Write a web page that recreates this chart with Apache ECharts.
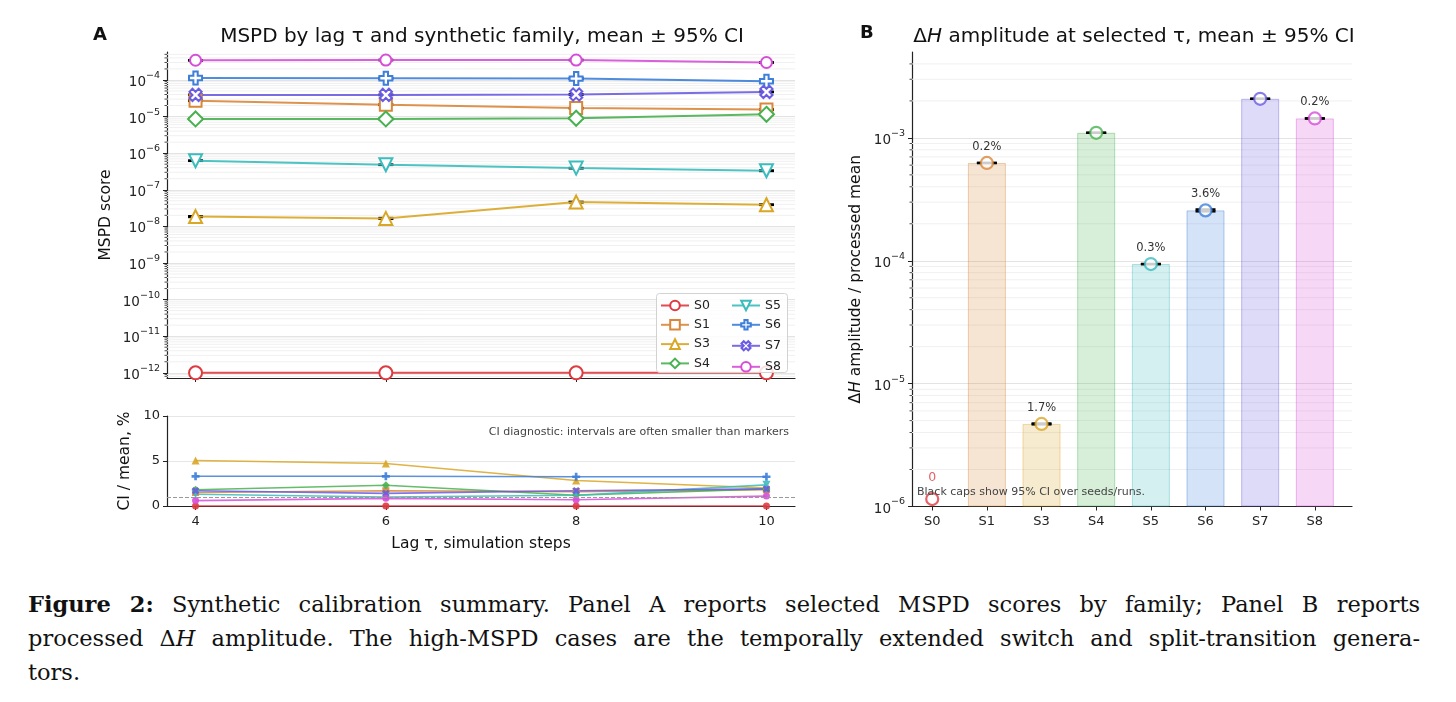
<!DOCTYPE html>
<html>
<head>
<meta charset="utf-8">
<script src="https://cdn.jsdelivr.net/npm/echarts@6/dist/echarts.min.js"></script>
<style>
  html, body { margin: 0; padding: 0; background: #fff; }
  #chart { position: absolute; left: 0; top: 0; width: 1456px; height: 580px; }
  #caption { position: absolute; left: 28px; top: 587px; width: 1392px; font-family: 'DejaVu Serif', serif; font-size: 22.5px; line-height: 34px; color: #111; }
  #caption div { white-space: nowrap; }
  #caption .j { text-align: justify; text-align-last: justify; }
</style>
</head>
<body>
<div id="chart"></div>
<div id="caption">
  <div class="j"><b>Figure 2:</b> Synthetic calibration summary. Panel A reports selected MSPD scores by family; Panel B reports</div>
  <div class="j">processed &Delta;<i>H</i> amplitude. The high-MSPD cases are the temporally extended switch and split-transition genera-</div>
  <div>tors.</div>
</div>
<script>
// ---- data ----
const lagSteps = [4, 6, 8, 10];
const families = ['S0', 'S1', 'S3', 'S4', 'S5', 'S6', 'S7', 'S8'];

// MSPD mean by lag (panel A, top)
const mspdS0 = [1e-12, 1e-12, 1e-12, 1e-12];
const mspdS1 = [2.7e-5, 2.1e-5, 1.7e-5, 1.55e-5];
const mspdS3 = [1.85e-8, 1.65e-8, 4.6e-8, 3.9e-8];
const mspdS4 = [8.6e-6, 8.6e-6, 9.0e-6, 1.15e-5];
const mspdS5 = [6.2e-7, 4.8e-7, 3.9e-7, 3.3e-7];
const mspdS6 = [1.13e-4, 1.11e-4, 1.09e-4, 9.2e-5];
const mspdS7 = [3.9e-5, 3.9e-5, 4.0e-5, 4.7e-5];
const mspdS8 = [3.45e-4, 3.5e-4, 3.5e-4, 3.0e-4];

// CI / mean, % (panel A, bottom)
const ciS0 = [0, 0, 0, 0];
const ciS1 = [1.5, 1.7, 1.6, 1.8];
const ciS3 = [5.05, 4.72, 2.83, 2.0];
const ciS4 = [1.8, 2.3, 1.2, 1.9];
const ciS5 = [1.3, 1.0, 1.2, 2.35];
const ciS6 = [3.3, 3.3, 3.25, 3.25];
const ciS7 = [1.7, 1.4, 1.7, 1.9];
const ciS8 = [0.6, 0.85, 0.7, 1.1];
const ciRefLine = 1;

// panel B: dH amplitude at selected tau
const ampMean = [0, 6.25e-4, 4.7e-6, 1.1e-3, 9.4e-5, 2.57e-4, 2.08e-3, 1.44e-3];
const ampCiPct = [0, 0.2, 1.7, 0.1, 0.3, 3.6, 0.1, 0.2];
const ampCiLabel = ['', '0.2%', '1.7%', '', '0.3%', '3.6%', '', '0.2%'];
const ampZeroFloor = 1.15e-6;

// tick labels
const mspdTicks = [1e-12, 1e-11, 1e-10, 1e-9, 1e-8, 1e-7, 1e-6, 1e-5, 1e-4];
const ampTicks = [1e-6, 1e-5, 1e-4, 1e-3];
const ciTicks = [0, 5, 10];

const mspdByFamily = [mspdS0, mspdS1, mspdS3, mspdS4, mspdS5, mspdS6, mspdS7, mspdS8];
const ciByFamily = [ciS0, ciS1, ciS3, ciS4, ciS5, ciS6, ciS7, ciS8];

// ---- styles ----
const colors = ['#de3a3f', '#d9873a', '#d9a625', '#48b150', '#3bbcbd', '#3d7fda', '#6a5ce2', '#d64ed8'];
const plusPath = 'path://M-1,-3L1,-3L1,-1L3,-1L3,1L1,1L1,3L-1,3L-1,1L-3,1L-3,-1L-1,-1Z';
const symbols = ['circle', 'rect', 'triangle', 'diamond', 'triangle', plusPath, plusPath, 'circle'];
const rotations = [0, 0, 0, 0, 180, 0, 45, 0];
const topSizes = [13, 12, 13, 15, 13, 13, 13, 11];
const botSizes = [7, 7, 8, 8, 8, 8, 8, 7];

const FONT = 'DejaVu Sans';
const AX = '#222';

function rgba(hex, a) {
  const n = parseInt(hex.slice(1), 16);
  return 'rgba(' + (n >> 16 & 255) + ',' + (n >> 8 & 255) + ',' + (n & 255) + ',' + a + ')';
}

const logLabel = v => '{b|10}{s|\u2212' + Math.round(-Math.log10(v)) + '}';
const logRich = {
  b: { fontSize: 13.5, color: AX, fontFamily: FONT, lineHeight: 19, verticalAlign: 'bottom' },
  s: { fontSize: 9.5, color: AX, fontFamily: FONT, lineHeight: 11, verticalAlign: 'top' }
};

function minorValues(lo, hi) {
  const out = [];
  for (let e = Math.floor(Math.log10(lo)); e <= Math.ceil(Math.log10(hi)); e++) {
    for (let m = 2; m <= 9; m++) {
      const v = m * Math.pow(10, e);
      if (v > lo && v < hi) out.push(v);
    }
  }
  return out;
}

// light minor grid lines + minor ticks for a log axis
function minorGrid(xi, yi, xRef, lo, hi) {
  return {
    type: 'custom', xAxisIndex: xi, yAxisIndex: yi, silent: true, z: 1, clip: false,
    data: minorValues(lo, hi).map(v => [xRef, v]),
    renderItem: (params, api) => {
      const p = api.coord([api.value(0), api.value(1)]);
      const cs = params.coordSys;
      return {
        type: 'group', children: [
          { type: 'line', shape: { x1: cs.x, y1: p[1], x2: cs.x + cs.width, y2: p[1] }, style: { stroke: '#f0f0f0', lineWidth: 1 } },
          { type: 'line', shape: { x1: cs.x - 2.5, y1: p[1], x2: cs.x, y2: p[1] }, style: { stroke: AX, lineWidth: 0.8 } }
        ]
      };
    }
  };
}

// black error caps
function errorBars(xi, yi, rows, capHalf) {
  return {
    type: 'custom', xAxisIndex: xi, yAxisIndex: yi, silent: true, z: 3,
    data: rows,
    renderItem: (params, api) => {
      const x = api.value(0);
      const a = api.coord([x, api.value(1)]);
      const b = api.coord([x, api.value(2)]);
      const st = { stroke: '#000', lineWidth: 2.4 };
      return {
        type: 'group', children: [
          { type: 'line', shape: { x1: a[0], y1: a[1], x2: b[0], y2: b[1] }, style: st },
          { type: 'line', shape: { x1: a[0] - capHalf, y1: a[1], x2: a[0] + capHalf, y2: a[1] }, style: st },
          { type: 'line', shape: { x1: b[0] - capHalf, y1: b[1], x2: b[0] + capHalf, y2: b[1] }, style: st }
        ]
      };
    }
  };
}

const mspdAxisMin = 7.2e-13, mspdAxisMax = 5.8e-4;
const ampAxisMin = 1e-6, ampAxisMax = 5e-3;
const familyIdx = families.map((_, i) => i);

const series = [];

// panel A top: MSPD lines
families.forEach((name, f) => {
  series.push({
    name: name, type: 'line', xAxisIndex: 0, yAxisIndex: 0, z: 4,
    data: lagSteps.map((t, i) => [t, mspdByFamily[f][i]]),
    symbol: symbols[f], symbolSize: topSizes[f], symbolRotate: rotations[f],
    itemStyle: { color: '#fff', borderColor: colors[f], borderWidth: 2 },
    lineStyle: { color: colors[f], width: 2, opacity: 0.9 },
    showAllSymbol: true, animation: false
  });
});

// panel A bottom: CI/mean lines
families.forEach((name, f) => {
  const s = {
    name: name, type: 'line', xAxisIndex: 1, yAxisIndex: 1, z: 4,
    data: lagSteps.map((t, i) => [t, ciByFamily[f][i]]),
    symbol: symbols[f], symbolSize: botSizes[f], symbolRotate: rotations[f],
    itemStyle: { color: colors[f], opacity: 0.9 },
    lineStyle: { color: colors[f], width: 1.6, opacity: 0.85 },
    showAllSymbol: true, animation: false
  };
  if (f === 0) {
    s.markLine = {
      silent: true, symbol: 'none', label: { show: false },
      lineStyle: { color: '#999', type: 'dashed', width: 1 },
      data: [{ yAxis: ciRefLine }]
    };
  }
  series.push(s);
});

const mspdErrRows = [];
families.forEach((name, f) => {
  lagSteps.forEach((t, i) => {
    const m = mspdByFamily[f][i], c = ciByFamily[f][i];
    if (c > 0) mspdErrRows.push([t, m * (1 - c / 200), m * (1 + c / 200)]);
  });
});
series.push(errorBars(0, 0, mspdErrRows, 7.5));
series.push(minorGrid(0, 0, lagSteps[0], mspdAxisMin, mspdAxisMax));

// panel B
series.push({
  type: 'bar', xAxisIndex: 2, yAxisIndex: 2, z: 2, barWidth: 38, animation: false,
  data: ampMean.map((v, i) => ({
    value: [i, v],
    itemStyle: { color: rgba(colors[i], 0.22), borderColor: rgba(colors[i], 0.4), borderWidth: 1 }
  })).filter(d => d.value[1] > 0),
  label: {
    show: true, position: 'top', distance: 10, color: '#333', fontSize: 11.5, fontFamily: FONT,
    formatter: p => ampCiLabel[p.value[0]]
  }
});
series.push(errorBars(2, 2, ampMean.map((v, i) => [i, v * (1 - ampCiPct[i] / 200), v * (1 + ampCiPct[i] / 200)]).filter(r => r[1] > 0), 10));
series.push({
  type: 'scatter', xAxisIndex: 2, yAxisIndex: 2, z: 5, symbol: 'circle', symbolSize: 12, animation: false,
  itemStyle: { color: '#fff', borderWidth: 2.2 },
  data: ampMean.map((v, i) => {
    const d = { value: [i, v > 0 ? v : ampZeroFloor], itemStyle: { borderColor: colors[i] } };
    if (!(v > 0)) {
      d.label = { show: true, position: 'top', distance: 8, formatter: '0', color: colors[i], fontSize: 12.5, fontFamily: FONT };
    }
    return d;
  })
});
series.push(minorGrid(2, 2, 0, ampAxisMin, ampAxisMax));

const axisLine = { show: true, onZero: false, lineStyle: { color: AX, width: 1.2 } };
const tickStyle = { lineStyle: { color: AX, width: 1 }, length: 4 };
const nameStyle = { fontSize: 15.5, color: '#111', fontFamily: FONT };

const option = {
  animation: false,
  textStyle: { fontFamily: FONT },
  grid: [
    { left: 167, top: 52, width: 628, height: 326 },
    { left: 167, top: 416, width: 628, height: 90 },
    { left: 912, top: 52, width: 440, height: 454.5 }
  ],
  xAxis: [
    {
      gridIndex: 0, type: 'value', min: 3.7, max: 10.3, axisLine: axisLine,
      axisTick: Object.assign({ customValues: lagSteps }, tickStyle),
      axisLabel: { show: false, customValues: lagSteps }, splitLine: { show: false }
    },
    {
      gridIndex: 1, type: 'value', min: 3.7, max: 10.3, axisLine: axisLine,
      axisTick: Object.assign({ customValues: lagSteps }, tickStyle),
      axisLabel: { customValues: lagSteps, fontSize: 13, color: AX, margin: 9 },
      splitLine: { show: false },
      name: 'Lag \u03c4, simulation steps', nameLocation: 'middle', nameGap: 30, nameTextStyle: nameStyle
    },
    {
      gridIndex: 2, type: 'value', min: -0.37, max: 7.68, axisLine: axisLine,
      axisTick: Object.assign({ customValues: familyIdx }, tickStyle),
      axisLabel: { customValues: familyIdx, formatter: v => families[v], fontSize: 13, color: AX, margin: 9 },
      splitLine: { show: false }
    }
  ],
  yAxis: [
    {
      gridIndex: 0, type: 'log', min: mspdAxisMin, max: mspdAxisMax, axisLine: axisLine,
      axisTick: Object.assign({ customValues: mspdTicks }, tickStyle),
      axisLabel: { customValues: mspdTicks, formatter: logLabel, rich: logRich, margin: 7 },
      splitLine: { show: true, lineStyle: { color: '#e3e3e3', width: 1 } },
      name: 'MSPD score', nameLocation: 'middle', nameGap: 53, nameTextStyle: nameStyle
    },
    {
      gridIndex: 1, type: 'value', min: 0, max: 10, interval: 5, axisLine: axisLine,
      axisTick: Object.assign({ customValues: ciTicks }, tickStyle),
      axisLabel: { customValues: ciTicks, fontSize: 13, color: AX, margin: 7 },
      splitLine: { show: true, lineStyle: { color: '#e6e6e6', width: 1 } },
      name: 'CI / mean, %', nameLocation: 'middle', nameGap: 34, nameTextStyle: nameStyle
    },
    {
      gridIndex: 2, type: 'log', min: ampAxisMin, max: ampAxisMax, startValue: ampAxisMin, axisLine: axisLine,
      axisTick: Object.assign({ customValues: ampTicks }, tickStyle),
      axisLabel: { customValues: ampTicks, formatter: logLabel, rich: logRich, margin: 7 },
      splitLine: { show: true, lineStyle: { color: '#e3e3e3', width: 1 } },
      name: '{n|\u0394}{i|H}{n| amplitude / processed mean}', nameLocation: 'middle', nameGap: 48,
      nameTextStyle: Object.assign({
        rich: {
          n: { fontSize: 15.5, color: '#111', fontFamily: FONT },
          i: { fontSize: 15.5, color: '#111', fontFamily: FONT, fontStyle: 'italic' }
        }
      }, nameStyle)
    }
  ],
  legend: [
    {
      data: families.slice(0, 4), orient: 'vertical', left: 660, top: 299, itemGap: 6.3,
      itemWidth: 28, itemHeight: 12, padding: 0, z: 6, selectedMode: false,
      textStyle: { fontSize: 12.5, color: AX, fontFamily: FONT }
    },
    {
      data: families.slice(4), orient: 'vertical', left: 731, top: 299, itemGap: 6.3,
      itemWidth: 28, itemHeight: 12, padding: 0, z: 6, selectedMode: false,
      textStyle: { fontSize: 12.5, color: AX, fontFamily: FONT }
    }
  ],
  graphic: [
    { type: 'rect', z: 5, silent: true, shape: { x: 656.5, y: 293.5, width: 131, height: 79, r: 3 },
      style: { fill: 'rgba(255,255,255,0.85)', stroke: '#d2d2d2', lineWidth: 1 } },
    { type: 'text', x: 93, y: 35, style: { text: 'A', fontSize: 18, fontWeight: 'bold', fontFamily: FONT, fill: '#111', align: 'left', verticalAlign: 'middle' } },
    { type: 'text', x: 860, y: 33, style: { text: 'B', fontSize: 18, fontWeight: 'bold', fontFamily: FONT, fill: '#111', align: 'left', verticalAlign: 'middle' } },
    { type: 'text', x: 482, y: 37, style: { text: 'MSPD by lag \u03c4 and synthetic family, mean \u00b1 95% CI', fontSize: 20, fontFamily: FONT, fill: '#111', align: 'center', verticalAlign: 'middle' } },
    { type: 'text', x: 1134, y: 37, style: {
        text: '{n|\u0394}{i|H}{n| amplitude at selected \u03c4, mean \u00b1 95% CI}',
        rich: {
          n: { fontSize: 20, fontFamily: FONT, fill: '#111', color: '#111' },
          i: { fontSize: 20, fontFamily: FONT, fill: '#111', color: '#111', fontStyle: 'italic' }
        },
        align: 'center', verticalAlign: 'middle' } },
    { type: 'text', x: 789, y: 432, z: 6, style: { text: 'CI diagnostic: intervals are often smaller than markers', fontSize: 11, fontFamily: FONT, fill: '#444', align: 'right', verticalAlign: 'middle' } },
    { type: 'text', x: 917, y: 492, z: 6, style: { text: 'Black caps show 95% CI over seeds/runs.', fontSize: 11, fontFamily: FONT, fill: '#444', align: 'left', verticalAlign: 'middle' } }
  ],
  series: series
};

const chart = echarts.init(document.getElementById('chart'), null, { renderer: 'canvas' });
chart.setOption(option);
window.addEventListener('resize', chart.resize);
</script>
</body>
</html>
